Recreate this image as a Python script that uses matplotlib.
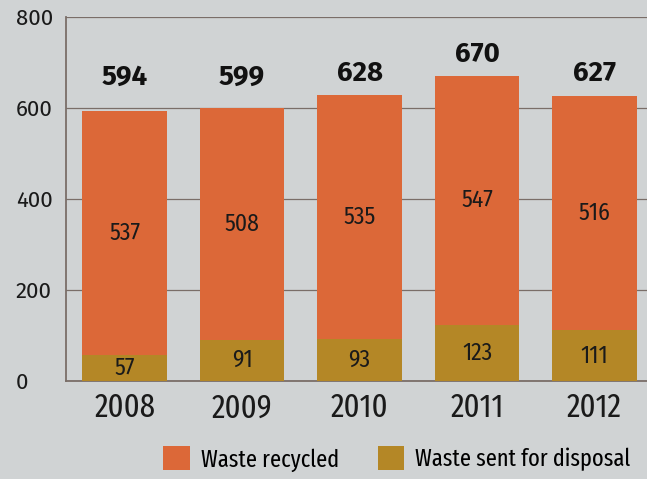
import matplotlib.pyplot as plt
import numpy as np

years = ["2008", "2009", "2010", "2011", "2012"]
recycled = [537, 508, 535, 547, 516]
disposal = [57, 91, 93, 123, 111]
totals = [594, 599, 628, 670, 627]

bg = "#d0d3d4"
orange = "#dc6838"
olive = "#b48726"
line_col = "#7a6e68"
txt_col = "#1a1a1a"
regular = ["Fira Sans", "DejaVu Sans"]
cond = ["Fira Sans Condensed", "DejaVu Sans"]
xcond = ["Fira Sans Extra Condensed", "DejaVu Sans"]
plt.rcParams["font.family"] = regular


def main():
    fig = plt.figure(figsize=(6.47, 4.79), dpi=100, facecolor=bg)
    ax = fig.add_axes([66 / 647, 98 / 479, 1 - 66 / 647, 364 / 479])
    ax.set_facecolor(bg)

    x = np.arange(len(years))
    w = 0.72
    ax.bar(x, disposal, w, color=olive, zorder=3, label="Waste sent for disposal")
    ax.bar(x, recycled, w, bottom=disposal, color=orange, zorder=3, label="Waste recycled")

    for i in range(len(years)):
        ax.text(x[i], disposal[i] / 2, str(disposal[i]), ha="center", va="center",
                fontsize=17, color=txt_col, family=cond, zorder=4)
        ax.text(x[i], disposal[i] + recycled[i] / 2, str(recycled[i]), ha="center",
                va="center", fontsize=17, color=txt_col, family=cond, zorder=4)
        ax.annotate(str(totals[i]), (x[i], max(totals[i], 620)), xytext=(0, 16),
                    textcoords="offset points", ha="center", va="center",
                    fontsize=20, fontweight="bold", color="#111111")

    ax.set_xlim(-0.5, 4.447)
    ax.set_ylim(0, 800)
    ax.set_yticks([0, 200, 400, 600, 800])
    ax.grid(axis="y", color=line_col, linewidth=0.9, zorder=0)
    ax.tick_params(axis="y", length=0, pad=36, labelsize=16, labelcolor=txt_col)
    for lbl in ax.get_yticklabels():
        lbl.set_horizontalalignment("left")
    ax.set_xticks(x)
    ax.set_xticklabels(years, family=xcond)
    ax.tick_params(axis="x", length=0, pad=8, labelsize=24, labelcolor=txt_col)

    for s in ["top", "right"]:
        ax.spines[s].set_visible(False)
    for s in ["left", "bottom"]:
        ax.spines[s].set_color(line_col)
        ax.spines[s].set_linewidth(1.3)

    h, l = ax.get_legend_handles_labels()
    fig.legend(h[::-1], l[::-1], loc="center left", bbox_to_anchor=(163 / 647, 1 - 459 / 479),
               ncol=2, frameon=False, borderpad=0, borderaxespad=0,
               prop={"family": xcond, "size": 17.5},
               handlelength=1.1, handleheight=1.1, handletextpad=0.45, columnspacing=1.6)

    plt.savefig("out.png", dpi=100, facecolor=bg)
    plt.close()


if __name__ == "__main__":
    main()
